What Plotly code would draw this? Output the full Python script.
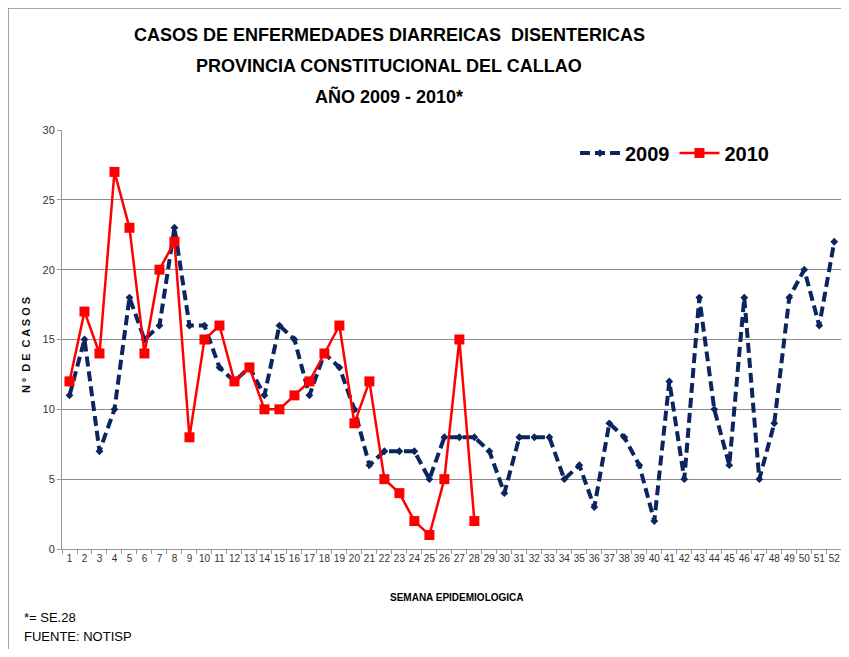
import plotly.graph_objects as go

# semanas epidemiologicas
semanas_2009 = list(range(1, 53))
casos_2009 = [11, 15, 7, 10, 18, 15, 16, 23, 16, 16, 13, 12, 13, 11, 16, 15, 11, 14, 13, 10,
              6, 7, 7, 7, 5, 8, 8, 8, 7, 4, 8, 8, 8, 5, 6, 3, 9, 8, 6, 2,
              12, 5, 18, 10, 6, 18, 5, 9, 18, 20, 16, 22]

semanas_2010 = list(range(1, 29))
casos_2010 = [12, 17, 14, 27, 23, 14, 20, 22, 8, 15, 16, 12, 13, 10, 10, 11, 12, 14, 16, 9,
              12, 5, 4, 2, 1, 5, 15, 2]

titulo = ["CASOS DE ENFERMEDADES DIARREICAS  DISENTERICAS",
          "PROVINCIA CONSTITUCIONAL DEL CALLAO",
          "AÑO 2009 - 2010*"]

FONT = "Liberation Sans, Arial"

fig = go.Figure()

fig.add_trace(go.Scatter(x=semanas_2009, y=casos_2009, name="<b>2009</b>", mode="lines+markers",
                         line=dict(color="#0b2560", width=4, dash="10px,5px"),
                         marker=dict(symbol="diamond", size=6, color="#0b2560")))

fig.add_trace(go.Scatter(x=semanas_2010, y=casos_2010, name="<b>2010</b>", mode="lines+markers",
                         line=dict(color="#ff0000", width=2.5),
                         marker=dict(symbol="square", size=10, color="#ff0000")))

# la pagina tiene 8px de margen en el body y el borde derecho se corta
fig.update_layout(
    width=833, height=641,
    margin=dict(l=54, r=0, t=122, b=100),
    paper_bgcolor="white", plot_bgcolor="white",
    font=dict(family=FONT, color="#222"),
    showlegend=True,
    legend=dict(orientation="h", x=0.6585, y=0.945, xanchor="left", yanchor="middle",
                font=dict(size=20, color="black", family=FONT),
                bgcolor="rgba(0,0,0,0)", itemwidth=40),
)

fig.update_xaxes(range=[0.5, 52.45], tickmode="array", tickvals=semanas_2009,
                 ticktext=[str(s) for s in semanas_2009], ticks="", showgrid=False,
                 showline=True, linecolor="#999", linewidth=1,
                 tickfont=dict(size=10, color="#333"),
                 minor=dict(tickmode="linear", tick0=0.5, dtick=1, ticks="outside",
                            ticklen=4, tickcolor="#999", showgrid=False))

fig.update_yaxes(range=[0, 30], dtick=5, showgrid=True, gridcolor="#8c8c8c", gridwidth=1,
                 showline=True, linecolor="#999", linewidth=1, ticks="outside", ticklen=4,
                 tickcolor="#999", tickfont=dict(size=11, color="#333"), zeroline=False)

# titulo
ys = [1.2267, 1.1527, 1.0788]
for txt, yy in zip(titulo, ys):
    fig.add_annotation(text="<b>" + txt + "</b>", x=0.4198, y=yy, xref="paper", yref="paper",
                       xanchor="center", yanchor="middle",
                       showarrow=False, font=dict(size=18, color="black", family=FONT))

fig.add_annotation(text="<b>N º  D E  C A S O S</b>", x=-0.0462, y=0.4869, xref="paper",
                   yref="paper", textangle=-90, showarrow=False,
                   xanchor="center", yanchor="middle",
                   font=dict(size=11, color="#111", family=FONT))

fig.add_annotation(text="<b>SEMANA EPIDEMIOLOGICA</b>", x=0.507, y=-0.1146, xref="paper",
                   yref="paper", showarrow=False, xanchor="center", yanchor="middle",
                   font=dict(size=10, color="black", family=FONT))

fig.add_annotation(text="*= SE.28", x=-0.0513, y=-0.1623, xref="paper", yref="paper",
                   xanchor="left", yanchor="middle", showarrow=False,
                   font=dict(size=13, color="black", family=FONT))
fig.add_annotation(text="FUENTE: NOTISP", x=-0.0513, y=-0.2100, xref="paper", yref="paper",
                   xanchor="left", yanchor="middle", showarrow=False,
                   font=dict(size=13, color="black", family=FONT))

# marco del grafico
fig.add_shape(type="line", xref="paper", yref="paper", x0=-0.0693, x1=1.2, y0=1.2912, y1=1.2912,
              line=dict(color="#888", width=1.5))
fig.add_shape(type="line", xref="paper", yref="paper", x0=-0.0693, x1=-0.0693, y0=-0.4, y1=1.2912,
              line=dict(color="#888", width=1.5))

fig.write_html("out.html")
